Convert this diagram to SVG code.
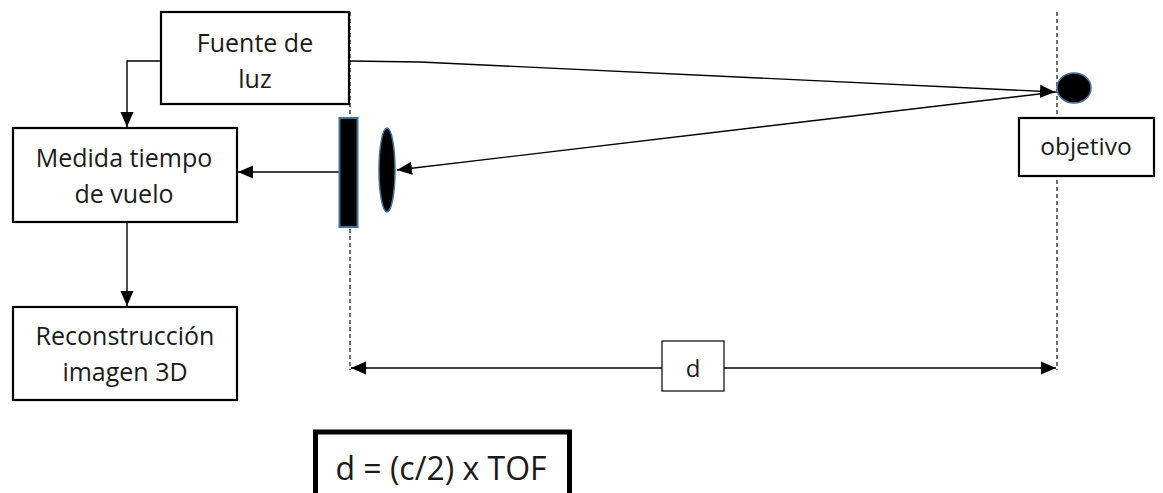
<svg xmlns="http://www.w3.org/2000/svg" width="1163" height="493" viewBox="0 0 1163 493">
<style>
.box{fill:#fff;stroke:#000;stroke-width:2.2}
.t{font-family:"Open Sans","Liberation Sans",sans-serif;fill:#1a1a1a;text-anchor:middle}
.c{fill:none;stroke:#000;stroke-width:1.4}
.dash{fill:none;stroke:#222;stroke-width:1.3;stroke-dasharray:4,3}
</style>
<defs>
<marker id="ah" markerUnits="userSpaceOnUse" markerWidth="16" markerHeight="16" refX="15" refY="8" orient="auto-start-reverse" viewBox="0 0 16 16">
<path d="M0,1.5 L15,8 L0,14.5 Z" fill="#000"/>
</marker>
</defs>
<g id="guides">
<line class="dash" x1="350" y1="12" x2="350" y2="370"/>
<line class="dash" x1="1057" y1="12" x2="1057" y2="370"/>
</g>
<g id="connectors">
<path class="c" d="M161,61 H127 V127" marker-end="url(#ah)"/>
<path class="c" d="M339,172 H238" marker-end="url(#ah)"/>
<path class="c" d="M127,222 V306" marker-end="url(#ah)"/>
<path class="c" d="M350,61 L420,62 L1055,92" marker-end="url(#ah)"/>
<path class="c" d="M1056,92 L397,170" marker-end="url(#ah)"/>
<path class="c" d="M351,368 H1056" marker-start="url(#ah)" marker-end="url(#ah)"/>
</g>
<g id="fuente">
<rect class="box" x="161" y="12" width="188" height="92"/>
<text class="t" x="255" y="52" font-size="25">Fuente de</text>
<text class="t" x="255" y="88" font-size="25">luz</text>
</g>
<g id="medida">
<rect class="box" x="13" y="128" width="224" height="94"/>
<text class="t" x="124" y="167" font-size="25">Medida tiempo</text>
<text class="t" x="124" y="203" font-size="25">de vuelo</text>
</g>
<g id="reconstruccion">
<rect class="box" x="13" y="307" width="224" height="93"/>
<text class="t" x="125" y="345" font-size="25">Reconstrucción</text>
<text class="t" x="125" y="381" font-size="25">imagen 3D</text>
</g>
<g id="sensor">
<rect x="339.5" y="118" width="18" height="109" fill="#000" stroke="#41719c" stroke-width="2"/>
</g>
<g id="lente">
<ellipse cx="387" cy="170" rx="8" ry="42" fill="#000" stroke="#41719c" stroke-width="1.5"/>
</g>
<g id="objeto">
<ellipse cx="1074" cy="88" rx="17" ry="15" fill="#000" stroke="#41719c" stroke-width="1.5"/>
</g>
<g id="objetivo">
<rect class="box" x="1019" y="118" width="135" height="58"/>
<text class="t" x="1086" y="155" font-size="24.5">objetivo</text>
</g>
<g id="dlabel">
<rect x="662" y="341" width="62" height="50" fill="#fff" stroke="#000" stroke-width="1.2"/>
<text class="t" x="693" y="377" font-size="24">d</text>
</g>
<g id="formula">
<rect x="315.5" y="432" width="254" height="72" fill="#fff" stroke="#000" stroke-width="5"/>
<text class="t" x="441" y="480" font-size="32">d = (c/2) x TOF</text>
</g>
</svg>
